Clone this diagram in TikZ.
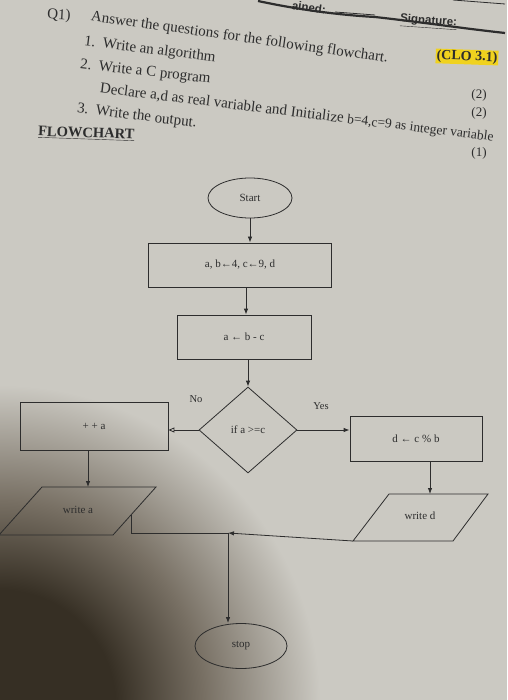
\documentclass[tikz,border=0pt]{standalone}
\usepackage{fontspec}
\setmainfont{Liberation Serif}
\setsansfont{Liberation Sans}
\usetikzlibrary{shapes.geometric,arrows.meta}
\definecolor{paper}{RGB}{203,201,194}
\definecolor{shadowc}{RGB}{54,47,36}
\definecolor{midshade}{RGB}{120,112,100}
\definecolor{ink}{RGB}{45,45,45}
\definecolor{hl}{RGB}{240,210,30}
\pgfdeclareradialshading{papershadow}{\pgfpoint{0bp}{0bp}}{color(0bp)=(shadowc); color(9bp)=(shadowc); color(16bp)=(midshade); color(25bp)=(paper); color(50bp)=(paper)}
\begin{document}
\begin{tikzpicture}[x=1pt,y=-1pt,
  hdr/.style={anchor=west,inner sep=0pt,text=ink,font=\fontsize{15}{17}\selectfont},
  marks/.style={inner sep=0pt,text=ink,font=\fontsize{13}{15}\selectfont},
  fc/.style={draw=ink,line width=0.8pt,text=ink,font=\fontsize{11}{13}\selectfont,inner sep=1pt},
  proc/.style={fc,rectangle},
  term/.style={fc,ellipse},
  dec/.style={fc,diamond,minimum width=98pt,minimum height=86pt,inner sep=0pt},
  iotext/.style={inner sep=0pt,text=ink,font=\fontsize{11}{13}\selectfont},
  iobox/.style={draw=ink,line width=0.8pt},
  arr/.style={draw=ink,line width=0.8pt,-{Latex[length=6pt,width=4.5pt]}},
  openarr/.style={draw=ink,line width=0.8pt,-{Triangle[open,length=6pt,width=5pt]}},
  lbl/.style={inner sep=0pt,text=ink,font=\fontsize{10.5}{12}\selectfont},
  sigfont/.style={anchor=west,inner sep=0pt,text=ink,font=\sffamily\bfseries\fontsize{11.5}{13}\selectfont}]
\useasboundingbox (0,0) rectangle (507,700);
\fill[paper] (0,0) rectangle (507,700);
\shade[shading=papershadow] (0,705) ellipse [x radius=320,y radius=320];
% header decorations
\draw[ink,line width=2.2pt] (258,1) .. controls (300,10) and (340,15) .. (375,17) .. controls (420,22) and (460,28) .. (505,33);
\draw[ink,line width=0.8pt] (335,12) -- (375,15);
\draw[ink,line width=0.8pt] (453,0) -- (505,4);
\node[sigfont,rotate=-8] (obt) at (292,5) {ained:};
\node[sigfont,rotate=-4] (sig) at (400,20) {\underline{Signature:}};
% question text
\node[hdr,rotate=-3] (q) at (47,15) {Q1)};
\node[hdr,rotate=-8] (ans) at (91,17) {Answer the questions for the following flowchart.};
\node[hdr,rotate=-7] (i1) at (84,42) {1.\ \ Write an algorithm};
\node[hdr,rotate=-6.5] (i2) at (80,65) {2.\ \ Write a C program};
\node[hdr,rotate=-7] (i2b) at (100,89) {Declare a,d as real variable and Initialize {\fontsize{13.5}{15}\selectfont b=4,c=9 as integer variable}};
\node[hdr,rotate=-7] (i3) at (77,109) {3.\ \ Write the output.};
\node[hdr,rotate=-2,font=\bfseries\fontsize{14.5}{16}\selectfont] (fch) at (38,132) {\underline{FLOWCHART}};
\node[marks,fill=hl,inner sep=1pt,rotate=-2,font=\bfseries\fontsize{14}{16}\selectfont] (clo) at (467,57) {(CLO 3.1)};
\node[marks] (m1) at (479,95) {(2)};
\node[marks] (m2) at (479,113) {(2)};
\node[marks] (m3) at (479,153) {(1)};
% flowchart
\node[term,minimum width=84pt,minimum height=40pt] (start) at (250,198) {Start};
\node[proc,minimum width=183pt,minimum height=44pt] (init) at (240,265) {a, b←4, c←9, d};
\node[proc,minimum width=134pt,minimum height=44pt] (sub) at (244,337) {a ← b - c};
\node[dec] (if) at (248,430) {if a >=c};
\node[proc,minimum width=148pt,minimum height=48pt] (inc) at (94,426) {+ + a};
\node[proc,minimum width=132pt,minimum height=45pt] (mod) at (416,439) {d ← c \% b};
% write a (parallelogram)
\coordinate (wa-bl) at (-1,535);
\coordinate (wa-tl) at (42,487);
\coordinate (wa-tr) at (156,487);
\coordinate (wa-br) at (113,535);
\coordinate (wa-e) at (131,515);
\draw[iobox] (wa-bl) -- (wa-tl) -- (wa-tr) -- (wa-br) -- cycle;
\node[iotext] (wa) at (78,510) {write a};
% write d (parallelogram)
\coordinate (wd-bl) at (353,541);
\coordinate (wd-tl) at (389,494);
\coordinate (wd-tr) at (488,494);
\coordinate (wd-br) at (453,541);
\draw[iobox] (wd-bl) -- (wd-tl) -- (wd-tr) -- (wd-br) -- cycle;
\node[iotext] (wd) at (420,516) {write d};
\node[term,minimum width=92pt,minimum height=45pt] (stop) at (241,646) {stop};
\coordinate (j) at (228,533);
\node[lbl] (no) at (196,399) {No};
\node[lbl] (yes) at (321,406) {Yes};
% connectors
\draw[arr] (start.south) -- (start.south |- init.north);
\draw[arr] ([xshift=2pt]sub.north |- init.south) -- ([xshift=2pt]sub.north);
\draw[arr] (if.north |- sub.south) -- (if.north);
\draw[openarr] (if.west) -- (if.west -| inc.east);
\draw[arr] (if.east) -- (if.east -| mod.west);
\draw[arr] ([xshift=-6pt]inc.south) -- ([xshift=-6pt]inc.south |- wa-tl);
\draw[arr] ([xshift=14pt]mod.south) -- ([xshift=14pt]mod.south |- wd-tl);
\draw[draw=ink,line width=0.8pt] (wa-e) |- (j);
\draw[arr] (wd-bl) -- (j);
\draw[arr] (j) -- (j |- stop.north);
\end{tikzpicture}
\end{document}
